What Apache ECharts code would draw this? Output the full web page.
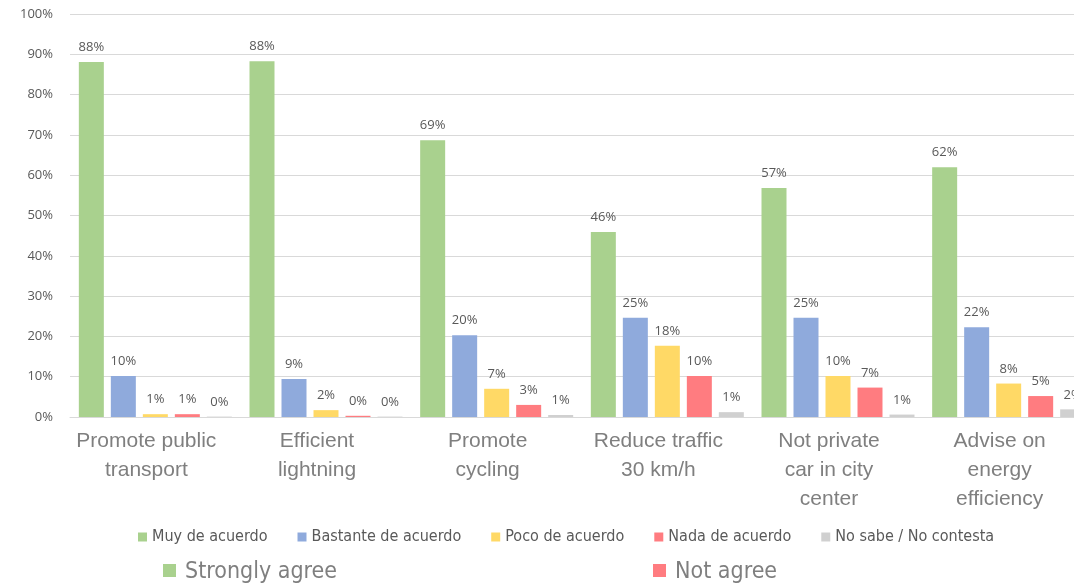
<!DOCTYPE html>
<html>
<head>
<meta charset="utf-8">
<script src="https://cdn.jsdelivr.net/npm/echarts@6/dist/echarts.min.js"></script>
<style>html,body{margin:0;padding:0;background:#fff;overflow:hidden}#c{width:1094px;height:583px}</style>
</head>
<body>
<div id="c"></div>
<script>
const categories = ["Promote public\ntransport", "Efficient\nlightning", "Promote\ncycling", "Reduce traffic\n30 km/h", "Not private\ncar in city\ncenter", "Advise on\nenergy\nefficiency"];
const seriesNames = ["Muy de acuerdo", "Bastante de acuerdo", "Poco de acuerdo", "Nada de acuerdo", "No sabe / No contesta"];
const muyDeAcuerdo = [88.1, 88.3, 68.7, 45.9, 56.8, 62.0];
const bastanteDeAcuerdo = [10.2, 9.4, 20.3, 24.6, 24.6, 22.3];
const pocoDeAcuerdo = [0.7, 1.7, 7.0, 17.7, 10.2, 8.3];
const nadaDeAcuerdo = [0.7, 0.3, 3.0, 10.2, 7.3, 5.2];
const noSabe = [0.1, 0.1, 0.5, 1.2, 0.6, 1.9];
const yTicks = [0, 10, 20, 30, 40, 50, 60, 70, 80, 90, 100];
const colors = ["#a9d18e", "#8faadc", "#ffd966", "#ff7c80", "#d0d0d0"];
const extraLegend = [["Strongly agree", "#a9d18e"], ["Not agree", "#ff7c80"]];

const allData = [muyDeAcuerdo, bastanteDeAcuerdo, pocoDeAcuerdo, nadaDeAcuerdo, noSabe];
const chart = echarts.init(document.getElementById('c'), null, {renderer: 'canvas'});
const labelFont = "'Open Sans', 'Noto Sans', sans-serif";
const narrowFont = "'DejaVu Sans Condensed', 'Liberation Sans Narrow', sans-serif";
const series = seriesNames.map((n, i) => ({
  name: n,
  type: 'bar',
  data: allData[i],
  barWidth: 25,
  barGap: '28%',
  itemStyle: {color: colors[i]},
  label: {
    show: true, position: 'top', distance: 8,
    color: '#595959', fontSize: 13, fontFamily: labelFont,
    formatter: p => Math.round(p.value) + '%'
  }
}));

const graphics = [];
const legendX = [163, 653];
extraLegend.forEach((e, i) => {
  graphics.push({type: 'rect', left: legendX[i], top: 564, shape: {width: 13, height: 13}, style: {fill: e[1]}});
  graphics.push({type: 'text', left: legendX[i] + 22, top: 561, style: {text: e[0], fill: '#7f7f7f', font: "23px " + narrowFont}});
});

chart.setOption({
  animation: false,
  color: colors,
  grid: {left: 70, top: 14, right: 0, bottom: 166, containLabel: false},
  xAxis: {
    type: 'category', data: categories,
    axisTick: {show: false},
    axisLine: {lineStyle: {color: '#d9d9d9'}},
    axisLabel: {interval: 0, color: '#7f7f7f', fontSize: 21, lineHeight: 29, margin: 10, padding: [0, 18, 0, 0], fontFamily: "'Liberation Sans', Arial, sans-serif"}
  },
  yAxis: {
    type: 'value', min: yTicks[0], max: yTicks[yTicks.length - 1], interval: 10,
    axisLabel: {formatter: '{value}%', color: '#595959', fontSize: 13, margin: 17, fontFamily: labelFont},
    splitLine: {lineStyle: {color: '#d9d9d9'}},
    axisLine: {show: false}, axisTick: {show: false}
  },
  legend: {
    data: seriesNames, left: 133, top: 524,
    itemWidth: 9, itemHeight: 9, itemGap: 30, icon: 'rect',
    textStyle: {color: '#595959', fontSize: 16, fontFamily: narrowFont}
  },
  graphic: graphics,
  series: series
});
</script>
</body>
</html>
